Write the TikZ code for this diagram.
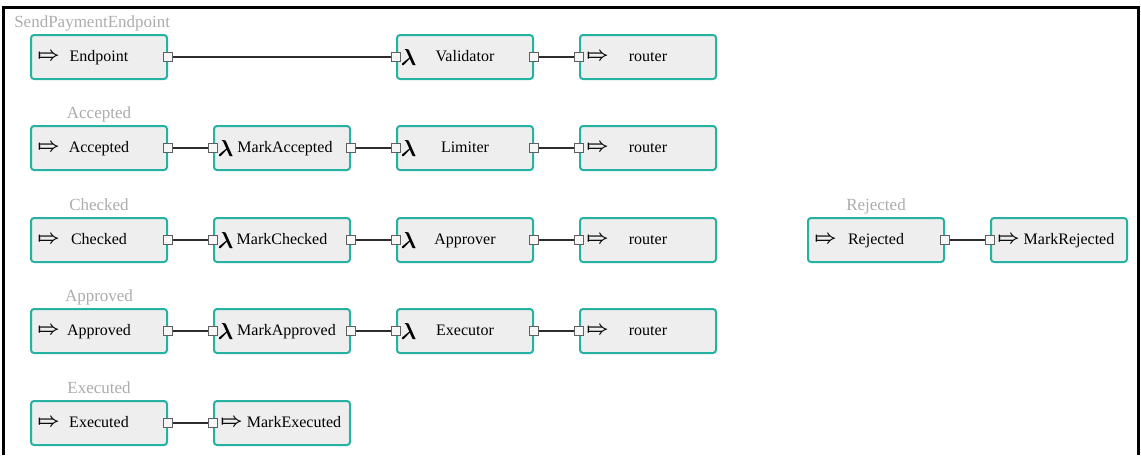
\documentclass[tikz,border=0pt]{standalone}
\usepackage{fontspec}
\setmainfont{Liberation Serif}
\usepackage{tikz}
\usetikzlibrary{positioning}
\definecolor{boxteal}{RGB}{38,178,162}
\definecolor{boxfill}{RGB}{238,238,238}
\definecolor{portgray}{RGB}{95,95,95}
\definecolor{wiregray}{RGB}{45,45,45}
\definecolor{grouplbl}{RGB}{172,172,172}
\newcommand{\flowicon}{$\mapstochar\Rightarrow$}
\newcommand{\fnicon}{$\lambda$}

\begin{document}
\begin{tikzpicture}[x=0.75pt,y=-0.75pt,
  blk/.style={draw=boxteal,line width=1.5pt,fill=boxfill,rounded corners=2.25pt,
    minimum width=102pt,minimum height=33pt,inner sep=0pt,text height=8.5pt,text depth=2.5pt,
    font=\fontsize{12}{14}\selectfont},
  port/.style={draw=portgray,fill=boxfill!50!white,line width=0.9pt,minimum size=6.75pt,inner sep=0pt},
  wire/.style={draw=wiregray,line width=1.5pt},
  ficon/.style={inner sep=0pt,font=\fontsize{14.5}{15}\selectfont\boldmath},
  licon/.style={inner sep=0pt,font=\fontsize{16.5}{17}\selectfont\boldmath},
  grp/.style={inner sep=0pt,text depth=0pt,text=grouplbl,font=\fontsize{12.75}{15}\selectfont}]
  \useasboundingbox (0,0) rectangle (1141,455);
  % frame
  \draw[line width=2.25pt] (3.5,455) -- (3.5,7) -- (1138.5,7) -- (1138.5,455);
  % blocks
  \node[blk] (endpoint) at (99,57) {Endpoint};
  \node[blk] (validator) at (465,57) {Validator};
  \node[blk] (router1) at (648,57) {router};
  \node[blk] (accepted) at (99,148) {Accepted};
  \node[blk] (markaccepted) at (282,148) {\hspace{4.5pt}MarkAccepted};
  \node[blk] (limiter) at (465,148) {Limiter};
  \node[blk] (router2) at (648,148) {router};
  \node[blk] (checked) at (99,240) {Checked};
  \node[blk] (markchecked) at (282,240) {MarkChecked};
  \node[blk] (approver) at (465,240) {Approver};
  \node[blk] (router3) at (648,240) {router};
  \node[blk] (rejected) at (876,240) {Rejected};
  \node[blk] (markrejected) at (1059,240) {\hspace{15pt}MarkRejected};
  \node[blk] (approved) at (99,331) {Approved};
  \node[blk] (markapproved) at (282,331) {\hspace{6.75pt}MarkApproved};
  \node[blk] (executor) at (465,331) {Executor};
  \node[blk] (router4) at (648,331) {router};
  \node[blk] (executed) at (99,423) {Executed};
  \node[blk] (markexecuted) at (282,423) {\hspace{18pt}MarkExecuted};
  % group labels
  \node[grp,above=5pt of endpoint.north west,anchor=south west,xshift=-12pt] (send-lbl) {SendPaymentEndpoint};
  \node[grp,above=4.5pt of accepted] (accepted-lbl) {Accepted};
  \node[grp,above=4.5pt of checked] (checked-lbl) {Checked};
  \node[grp,above=4.5pt of approved] (approved-lbl) {Approved};
  \node[grp,above=4.5pt of executed] (executed-lbl) {Executed};
  \node[grp,above=4.5pt of rejected] (rejected-lbl) {Rejected};
  % icons
  \foreach \b in {endpoint,router1,accepted,router2,checked,router3,rejected,markrejected,approved,router4,executed,markexecuted}
    \node[ficon,right=5.5pt of \b.west] (\b-ic) {\flowicon};
  \foreach \b in {validator,markaccepted,limiter,markchecked,approver,markapproved,executor}
    \node[licon,right=3.5pt of \b.west] (\b-ic) {\fnicon};
  % ports
  \foreach \b in {endpoint,validator,accepted,markaccepted,limiter,checked,markchecked,approver,rejected,approved,markapproved,executor,executed}
    \node[port] (\b-o) at (\b.east) {};
  \foreach \b in {validator,router1,markaccepted,limiter,router2,markchecked,approver,router3,markrejected,markapproved,executor,router4,markexecuted}
    \node[port] (\b-i) at (\b.west) {};
  % wires
  \foreach \a/\b in {endpoint/validator,validator/router1,accepted/markaccepted,markaccepted/limiter,limiter/router2,
      checked/markchecked,markchecked/approver,approver/router3,rejected/markrejected,
      approved/markapproved,markapproved/executor,executor/router4,executed/markexecuted}
    \draw[wire] (\a-o) -- (\b-i);
\end{tikzpicture}
\end{document}
